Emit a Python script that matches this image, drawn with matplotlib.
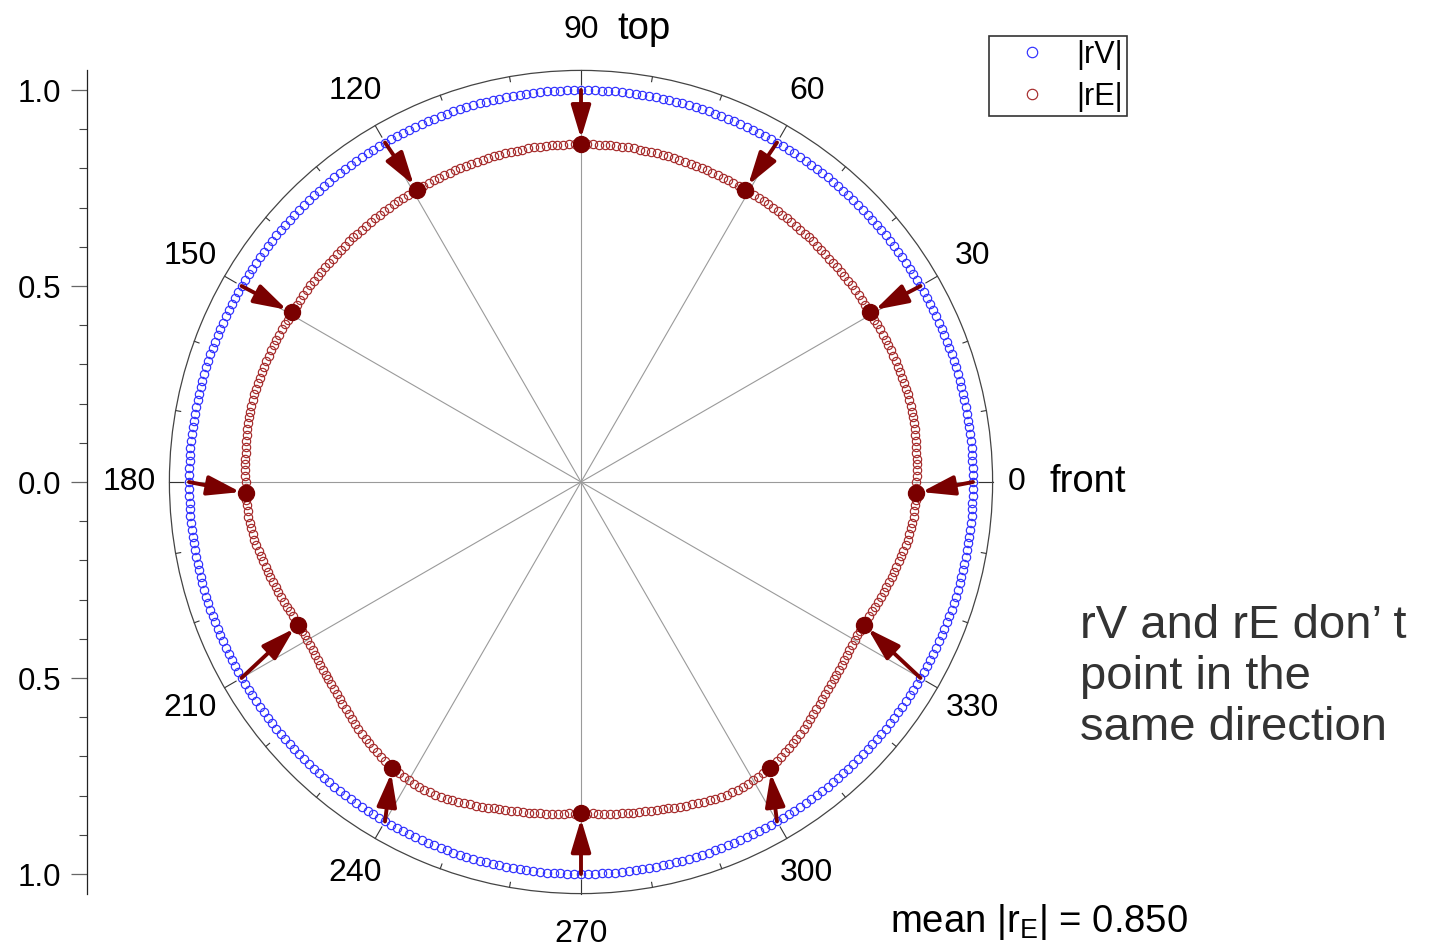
import numpy as np
import matplotlib
matplotlib.use("Agg")
import matplotlib.pyplot as plt

plt.rcParams["font.family"] = ["Liberation Sans", "DejaVu Sans"]
plt.rcParams["mathtext.default"] = "regular"

# ---- data -------------------------------------------------------------
# panning directions of the virtual source (degrees)
source_deg = np.arange(0, 360, 1)
# velocity vector magnitude |rV| for each direction
rv_mag = np.ones(360)
# energy vector magnitude |rE| for each direction (degrees 0..359)
re_mag = [
    0.855, 0.856, 0.857, 0.858, 0.859, 0.859, 0.860, 0.861, 0.861, 0.862,
    0.862, 0.863, 0.863, 0.863, 0.863, 0.863, 0.862, 0.862, 0.862, 0.861,
    0.861, 0.860, 0.859, 0.859, 0.858, 0.858, 0.857, 0.857, 0.856, 0.855,
    0.855, 0.855, 0.854, 0.854, 0.854, 0.853, 0.853, 0.853, 0.853, 0.852,
    0.852, 0.852, 0.852, 0.852, 0.852, 0.852, 0.853, 0.853, 0.853, 0.853,
    0.853, 0.853, 0.854, 0.854, 0.854, 0.854, 0.854, 0.855, 0.855, 0.855,
    0.855, 0.855, 0.856, 0.856, 0.856, 0.857, 0.857, 0.857, 0.858, 0.858,
    0.858, 0.859, 0.859, 0.859, 0.860, 0.860, 0.860, 0.861, 0.861, 0.861,
    0.861, 0.862, 0.862, 0.862, 0.862, 0.862, 0.862, 0.862, 0.862, 0.862,
    0.862, 0.862, 0.862, 0.862, 0.862, 0.862, 0.862, 0.862, 0.862, 0.862,
    0.861, 0.861, 0.861, 0.861, 0.860, 0.860, 0.860, 0.859, 0.859, 0.859,
    0.858, 0.858, 0.858, 0.857, 0.857, 0.857, 0.856, 0.856, 0.856, 0.855,
    0.855, 0.855, 0.855, 0.855, 0.854, 0.854, 0.854, 0.854, 0.854, 0.853,
    0.853, 0.853, 0.853, 0.853, 0.853, 0.852, 0.852, 0.852, 0.852, 0.852,
    0.852, 0.852, 0.853, 0.853, 0.853, 0.853, 0.854, 0.854, 0.854, 0.855,
    0.855, 0.855, 0.856, 0.857, 0.857, 0.858, 0.858, 0.859, 0.859, 0.860,
    0.861, 0.861, 0.862, 0.862, 0.862, 0.863, 0.863, 0.863, 0.863, 0.863,
    0.862, 0.862, 0.861, 0.861, 0.860, 0.859, 0.859, 0.858, 0.857, 0.856,
    0.855, 0.855, 0.855, 0.855, 0.854, 0.854, 0.853, 0.852, 0.850, 0.848,
    0.846, 0.844, 0.841, 0.838, 0.836, 0.833, 0.831, 0.829, 0.826, 0.824,
    0.822, 0.819, 0.817, 0.815, 0.812, 0.810, 0.809, 0.808, 0.807, 0.806,
    0.806, 0.806, 0.807, 0.809, 0.810, 0.812, 0.814, 0.816, 0.818, 0.820,
    0.822, 0.825, 0.828, 0.832, 0.835, 0.838, 0.842, 0.845, 0.849, 0.852,
    0.855, 0.858, 0.861, 0.864, 0.867, 0.870, 0.872, 0.874, 0.876, 0.878,
    0.879, 0.880, 0.880, 0.881, 0.881, 0.880, 0.879, 0.878, 0.876, 0.874,
    0.872, 0.870, 0.868, 0.866, 0.864, 0.862, 0.861, 0.859, 0.858, 0.856,
    0.855, 0.854, 0.853, 0.852, 0.851, 0.849, 0.848, 0.847, 0.846, 0.846,
    0.845, 0.846, 0.846, 0.847, 0.848, 0.849, 0.851, 0.852, 0.853, 0.854,
    0.855, 0.856, 0.858, 0.859, 0.861, 0.862, 0.864, 0.866, 0.868, 0.870,
    0.872, 0.874, 0.876, 0.878, 0.879, 0.880, 0.881, 0.881, 0.880, 0.880,
    0.879, 0.878, 0.876, 0.874, 0.872, 0.870, 0.867, 0.864, 0.861, 0.858,
    0.855, 0.852, 0.849, 0.845, 0.842, 0.838, 0.835, 0.832, 0.828, 0.825,
    0.822, 0.820, 0.818, 0.816, 0.814, 0.812, 0.810, 0.809, 0.807, 0.806,
    0.806, 0.806, 0.807, 0.808, 0.809, 0.810, 0.812, 0.815, 0.817, 0.819,
    0.822, 0.824, 0.826, 0.829, 0.831, 0.833, 0.836, 0.838, 0.841, 0.844,
    0.846, 0.848, 0.850, 0.852, 0.853, 0.854, 0.854, 0.855, 0.855, 0.855,
]

# highlighted examples: rV direction -> resulting rE direction and magnitude
arrow_rv_deg = [0, 30, 60, 90, 120, 150, 180, 210, 240, 270, 300, 330]
arrow_re_deg = [358.1, 30.4, 60.7, 90.0, 119.3, 149.6, 181.9, 206.8, 236.5, 270.0, 303.5, 333.2]
arrow_re_mag = [0.855, 0.855, 0.855, 0.862, 0.855, 0.855, 0.855, 0.808, 0.874, 0.845, 0.874, 0.808]

angle_labels = ["0", "30", "60", "90", "120", "150", "180", "210", "240", "270", "300", "330"]
radial_ticks = [-1.0, -0.5, 0.0, 0.5, 1.0]
radial_labels = ["1.0", "0.5", "0.0", "0.5", "1.0"]
mean_re = 0.850

# ---- figure -----------------------------------------------------------
W, H = 1431, 950
fig = plt.figure(figsize=(W / 100, H / 100), dpi=100)

RMAX = 1.05
cx, cy, rpx = 581, 482, 392 * RMAX
ax = fig.add_axes([(cx - rpx) / W, (H - cy - rpx) / H, 2 * rpx / W, 2 * rpx / H],
                  projection="polar")
ax.set_theta_zero_location("E")
ax.set_theta_direction(1)
ax.set_ylim(0, RMAX)
ax.set_yticks([])
ax.set_xticks([])
ax.grid(False)
ax.spines["polar"].set_color("#444444")
ax.spines["polar"].set_linewidth(0.9)

# inward ticks on the outer circle
for a in range(0, 360, 10):
    ln = 0.034 if a % 30 == 0 else 0.013
    ax.plot(np.deg2rad([a, a]), [RMAX - ln, RMAX], color="#333333", lw=0.8,
            clip_on=False, zorder=2)

# spokes
for a in range(0, 360, 30):
    r_end = RMAX if a % 90 == 0 else 1.0
    ax.plot(np.deg2rad([a, a]), [0, r_end], color="#9a9a9a", lw=0.8, zorder=1)

th = np.deg2rad(source_deg)
ax.plot(th, rv_mag, ls="none", marker="o", ms=6.0, mfc="none", mec="#3030ff",
        mew=0.85, zorder=3, label="|rV|")
ax.plot(th, re_mag, ls="none", marker="o", ms=6.0, mfc="none", mec="#a52a2a",
        mew=0.85, zorder=3, label="|rE|")

for a_v, a_e, m_e in zip(arrow_rv_deg, arrow_re_deg, arrow_re_mag):
    ax.annotate("", xy=(np.deg2rad(a_e), m_e), xytext=(np.deg2rad(a_v), 1.0),
                arrowprops=dict(arrowstyle="-|>,head_length=1.0,head_width=0.3",
                                color="#7a0000", lw=2.8, shrinkA=0, shrinkB=4,
                                mutation_scale=20), zorder=5)
ax.plot(np.deg2rad(arrow_re_deg), arrow_re_mag, ls="none", marker="o", ms=11.5,
        color="#7a0000", zorder=6)

# angle labels
label_r = 1.152
for a, txt in zip(range(0, 360, 30), angle_labels):
    r = 1.112 if a == 0 else label_r
    ax.text(np.deg2rad(a), r, txt, ha="center", va="center", fontsize=23)
ax.annotate("front", xy=(0, 1.112), xytext=(33 * 0.72, 0), textcoords="offset points",
            ha="left", va="center", fontsize=27.5, annotation_clip=False)
ax.annotate("top", xy=(np.pi / 2, label_r), xytext=(36 * 0.72, 1), textcoords="offset points",
            ha="left", va="center", fontsize=27.5, annotation_clip=False)

# left linear scale
lax = fig.add_axes([87 / W, (H - cy - rpx) / H, 0.01, 2 * rpx / H])
lax.set_ylim(-RMAX, RMAX)
lax.patch.set_visible(False)
for s in ("top", "right", "bottom"):
    lax.spines[s].set_visible(False)
lax.spines["left"].set_color("#222222")
lax.spines["left"].set_linewidth(0.9)
lax.set_xticks([])
lax.set_yticks(radial_ticks)
lax.set_yticklabels(radial_labels)
lax.set_yticks(np.arange(-1.0, 1.01, 0.1), minor=True)
lax.tick_params(axis="y", which="major", length=11.5, width=0.9, colors="#666666",
                labelcolor="black", labelsize=22.5, pad=7)
lax.tick_params(axis="y", which="minor", length=5.8, width=0.8, colors="#444444")

# legend
h1, l1 = ax.get_legend_handles_labels()
leg = fig.legend(h1, l1, loc="upper right", bbox_to_anchor=(1127 / W, 1 - 36 / H),
                 borderaxespad=0, frameon=True, fancybox=False, fontsize=22,
                 markerscale=1.25, handlelength=2.6, handletextpad=0.15,
                 labelspacing=0.4, borderpad=0.12)
leg.get_frame().set_edgecolor("black")
leg.get_frame().set_linewidth(1.2)

fig.text(1080 / W, 1 - 677 / H, "rV and rE don\u2019 t\npoint in the\nsame direction",
         ha="left", va="center", fontsize=34, color="#333333", linespacing=1.2)
fig.text(890 / W, 1 - 932 / H, "mean |r$_{E}$| = %.3f" % mean_re,
         ha="left", va="baseline", fontsize=27.5)

fig.savefig("out.png", dpi=100)
